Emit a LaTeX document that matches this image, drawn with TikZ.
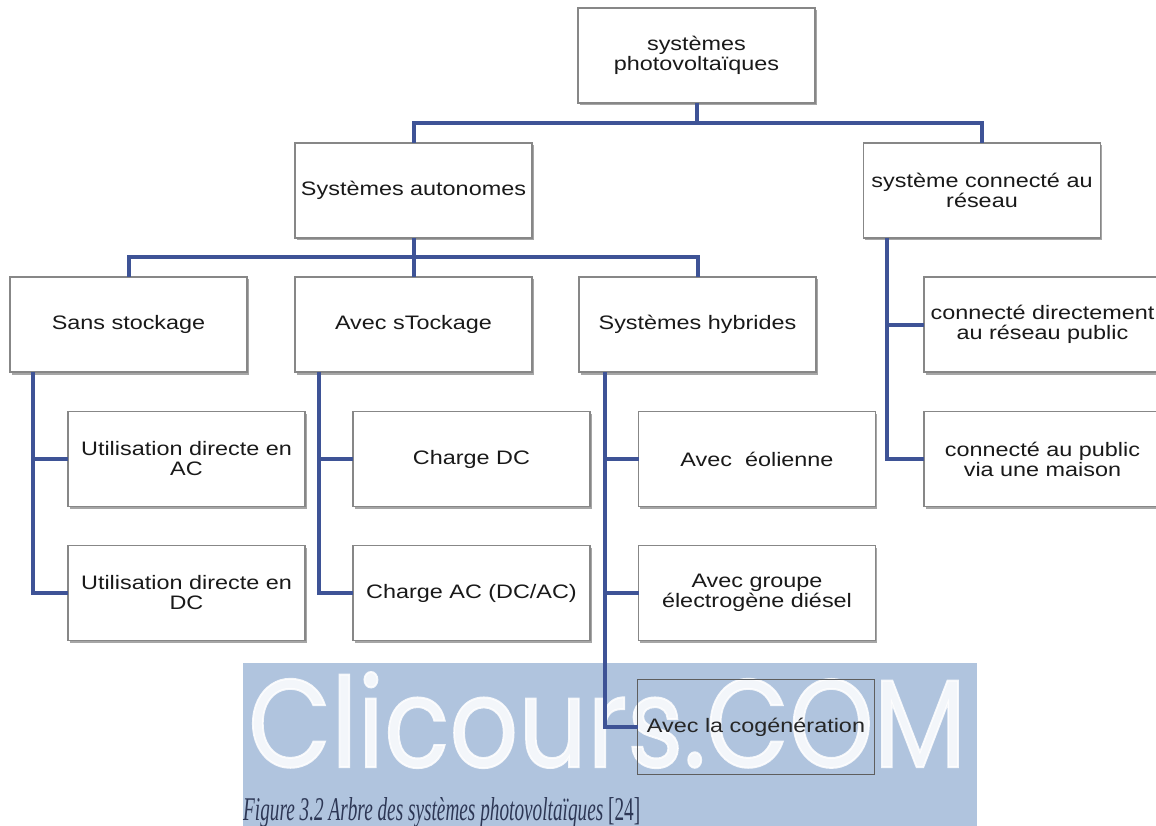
\documentclass[tikz,border=0pt]{standalone}
\usepackage{fontspec}
\setmainfont{Liberation Sans}[FakeStretch=1.2]
\newfontfamily\capfont{Liberation Serif}
\newfontfamily\wmfont{Poppins}[FakeBold=1.6]
\usetikzlibrary{shadows}
\definecolor{connc}{RGB}{62,83,150}
\definecolor{boxline}{RGB}{135,135,135}
\definecolor{bandc}{RGB}{176,196,222}
\definecolor{captxt}{RGB}{45,55,85}
\begin{document}
\begin{tikzpicture}[x=1pt,y=-1pt,
  box/.style={draw=boxline, line width=1.2pt, fill=white,
    minimum width=237pt, minimum height=95pt, inner sep=0pt, outer sep=0pt,
    align=center, font=\fontsize{19.5}{20}\selectfont, text=black!90,
    drop shadow={shadow xshift=1.5pt, shadow yshift=-2.5pt, fill=black, opacity=0.35}},
  cogbox/.style={draw=boxline!70!black, line width=1.2pt,
    minimum width=237pt, minimum height=95pt, inner sep=0pt, outer sep=0pt,
    align=center, font=\fontsize{19.5}{20}\selectfont, text=black!85},
  link/.style={draw=connc, line width=4pt}]
\useasboundingbox (0,0) rectangle (1156,826);
\clip (0,0) rectangle (1156,826);
% watermark band
\fill[bandc] (243,663) rectangle (977,826);
\node[anchor=base west, inner sep=0pt, text=white, text opacity=0.85] (wm) at (248,767)
  {\resizebox{718pt}{95pt}{\wmfont Clicours.COM}};
% boxes
\node[box] (top) at (696.5,55.5) {systèmes\\photovoltaïques};
\node[box] (auto) at (413.5,190.5) {Systèmes autonomes};
\node[box] (reseau) at (982,190.5) {système connecté au\\réseau};
\node[box] (sans) at (128.5,324.5) {Sans stockage};
\node[box] (avec) at (413.5,324.5) {Avec sTockage};
\node[box] (hyb) at (697.5,324.5) {Systèmes hybrides};
\node[box] (direct) at (1042.5,324.5) {connecté directement\\au réseau public};
\node[box] (uac) at (186.5,459) {Utilisation directe en\\AC};
\node[box] (udc) at (186.5,593) {Utilisation directe en\\DC};
\node[box] (cdc) at (471.5,459) {Charge DC};
\node[box] (cac) at (471.5,593) {Charge AC (DC/AC)};
\node[box] (eol) at (757,459) {Avec\ \ éolienne};
\node[box] (grp) at (757,593) {Avec groupe\\électrogène diésel};
\node[box] (pub) at (1042.5,459) {connecté au public\\via une maison};
\node[cogbox] (cog) at (756,727) {Avec la cogénération};
% connectors
\coordinate (bus1) at (0,123);
\coordinate (bus2) at (0,257);
\draw[link] (top.south) -- (top.south |- bus1);
\draw[link] (auto.north) -- (auto.north |- bus1) -- (reseau.north |- bus1) -- (reseau.north);
\draw[link] (auto.south) -- (avec.north);
\draw[link] (sans.north) -- (sans.north |- bus2) -- (hyb.north |- bus2) -- (hyb.north);
\coordinate (sv) at ([xshift=23pt]sans.south west);
\coordinate (av) at ([xshift=24pt]avec.south west);
\coordinate (hv) at ([xshift=26pt]hyb.south west);
\coordinate (rv) at ([xshift=23pt]reseau.south west);
\draw[link] (sv) |- (udc.west);
\draw[link] (sv |- uac.west) -- (uac.west);
\draw[link] (av) |- (cac.west);
\draw[link] (av |- cdc.west) -- (cdc.west);
\draw[link] (hv) |- (cog.west);
\draw[link] (hv |- eol.west) -- (eol.west);
\draw[link] (hv |- grp.west) -- (grp.west);
\draw[link] (rv) |- (pub.west);
\draw[link] (rv |- direct.west) -- (direct.west);
% caption
\node[anchor=base west, inner sep=0pt, text=captxt] (cap) at (243,820)
  {\resizebox{397pt}{23pt}{\capfont\itshape Figure 3.2 Arbre des systèmes photovoltaïques \upshape[24]}};
\end{tikzpicture}
\end{document}
